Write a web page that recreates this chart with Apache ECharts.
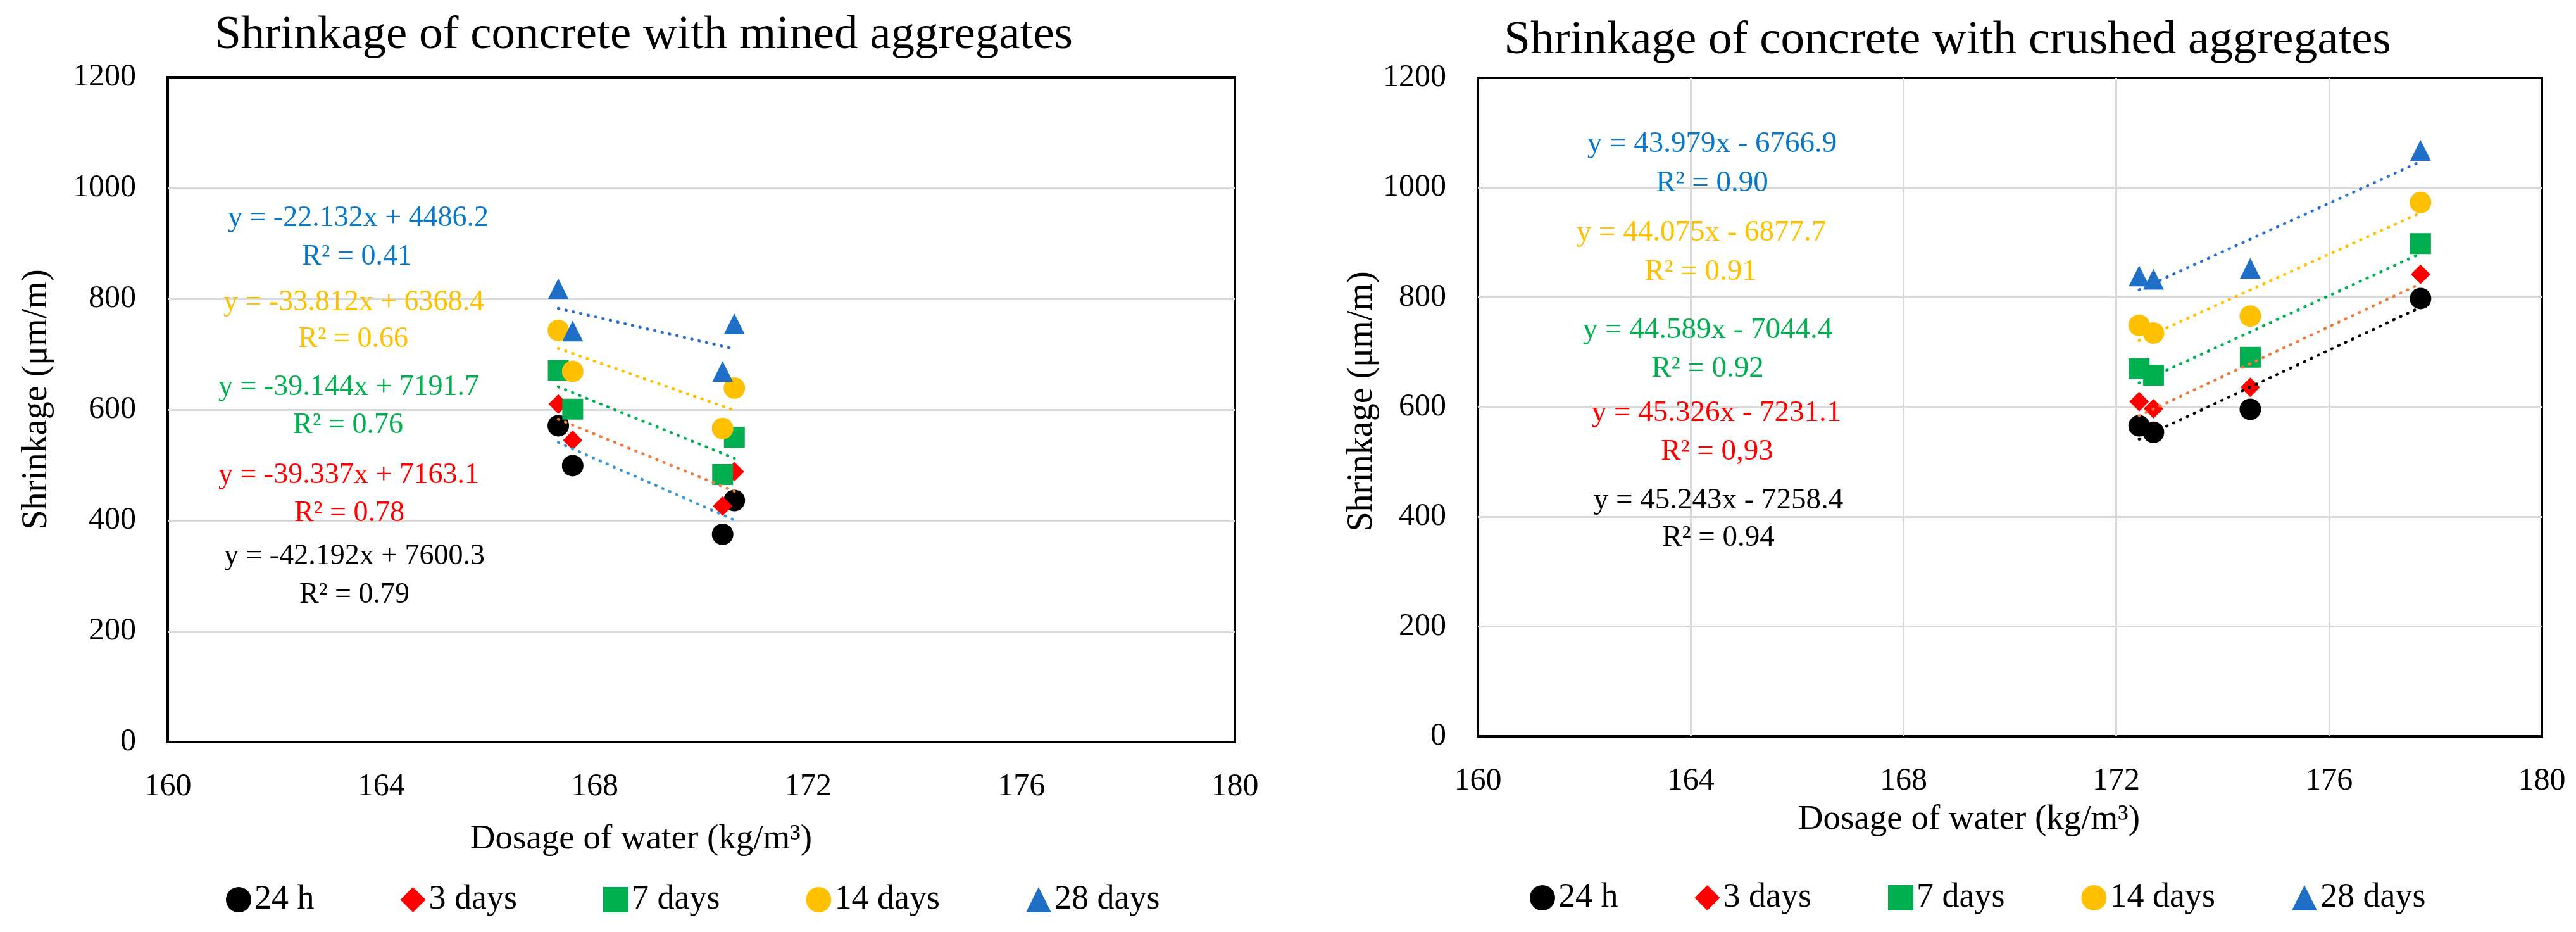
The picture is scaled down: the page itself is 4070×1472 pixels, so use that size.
<!DOCTYPE html>
<html><head><meta charset="utf-8">
<script src="https://cdn.jsdelivr.net/npm/echarts@6/dist/echarts.min.js"></script>
<style>html,body{margin:0;padding:0;background:#fff}#c{width:4070px;height:1472px}</style>
</head><body><div id="c"></div>
<script>
// ---------------- data ----------------
const seriesNames = ['24 h', '3 days', '7 days', '14 days', '28 days'];
const yTicks = [0, 200, 400, 600, 800, 1000, 1200];
const xTicks = [160, 164, 168, 172, 176, 180];

const minedWater = [167.32, 167.59, 170.40, 170.62];
const mined24h  = [571, 499, 375, 436];
const mined3d   = [610, 545, 426, 488];
const mined7d   = [671, 601, 483, 550];
const mined14d  = [743, 669, 566, 639];
const mined28d  = [818, 742, 669, 755];

const crushedWater = [172.43, 172.70, 174.52, 177.72];
const crushed24h = [566, 554, 596, 798];
const crushed3d  = [610, 597, 636, 842];
const crushed7d  = [670, 658, 691, 898];
const crushed14d = [749, 735, 766, 973];
const crushed28d = [839, 833, 853, 1068];

// trendline labels, in order 28 days, 14 days, 7 days, 3 days, 24 h
const minedEquations = ['y = -22.132x + 4486.2', 'y = -33.812x + 6368.4', 'y = -39.144x + 7191.7', 'y = -39.337x + 7163.1', 'y = -42.192x + 7600.3'];
const minedR2 = ['R² = 0.41', 'R² = 0.66', 'R² = 0.76', 'R² = 0.78', 'R² = 0.79'];
const crushedEquations = ['y = 43.979x - 6766.9', 'y = 44.075x - 6877.7', 'y = 44.589x - 7044.4', 'y = 45.326x - 7231.1', 'y = 45.243x - 7258.4'];
const crushedR2 = ['R² = 0.90', 'R² = 0.91', 'R² = 0.92', 'R² = 0,93', 'R² = 0.94'];

const titles = ['Shrinkage of concrete with mined aggregates', 'Shrinkage of concrete with crushed aggregates'];
const xTitle = 'Dosage of water (kg/m³)';
const yTitle = 'Shrinkage (μm/m)';

// ---------------- styles ----------------
const FONT = '"Liberation Serif", "Times New Roman", serif';
const markerColors = ['#000000', '#ff0000', '#00b050', '#ffc000', '#1f6fc6'];
const symbols = ['circle', 'diamond', 'rect', 'circle', 'triangle'];
const symbolSizes = [34, 31, 33, 34, 33];
const trendColorsMined = ['#3a9ad9', '#f47a3a', '#00b050', '#ffc000', '#2a6fcf'];
const trendColorsCrushed = ['#000000', '#f47a3a', '#00b050', '#ffc000', '#2a6fcf'];
const eqColors = ['#0a78c8', '#ffc000', '#00b050', '#ff0000', '#000000'];

function fit(xs, ys) {
  const n = xs.length;
  const mx = xs.reduce((a, b) => a + b, 0) / n;
  const my = ys.reduce((a, b) => a + b, 0) / n;
  let sxy = 0, sxx = 0;
  for (let i = 0; i < n; i++) { sxy += (xs[i] - mx) * (ys[i] - my); sxx += (xs[i] - mx) ** 2; }
  const b = sxy / sxx, a = my - b * mx;
  const x0 = Math.min(...xs), x1 = Math.max(...xs);
  return [[x0, a + b * x0], [x1, a + b * x1]];
}

const minedSets = [mined24h, mined3d, mined7d, mined14d, mined28d];
const crushedSets = [crushed24h, crushed3d, crushed7d, crushed14d, crushed28d];

const series = [];
function addGroup(xs, sets, gi, trendColors) {
  sets.forEach((ys, i) => {
    series.push({
      type: 'scatter', name: seriesNames[i], xAxisIndex: gi, yAxisIndex: gi,
      symbol: symbols[i], symbolSize: symbolSizes[i],
      itemStyle: { color: markerColors[i], opacity: 1 },
      data: xs.map((x, k) => [x, ys[k]]), z: 2
    });
  });
  sets.forEach((ys, i) => {
    series.push({
      type: 'line', name: 'trend' + gi + '_' + i, xAxisIndex: gi, yAxisIndex: gi,
      symbol: 'none', silent: true, z: 3,
      lineStyle: { color: trendColors[i], width: 4.5, type: [1, 11], cap: 'round' },
      data: fit(xs, ys)
    });
  });
}
addGroup(minedWater, minedSets, 0, trendColorsMined);
addGroup(crushedWater, crushedSets, 1, trendColorsCrushed);

const axisLabel = { color: '#000', fontFamily: FONT, fontSize: 50, formatter: (v) => String(v) };
const splitLine = (show) => ({ show, showMinLine: false, showMaxLine: false, lineStyle: { color: '#d9d9d9', width: 3 } });
function xAxis(gi, grid) {
  return { type: 'value', gridIndex: gi, min: xTicks[0], max: xTicks[xTicks.length - 1], interval: 4,
    axisLine: { show: false }, axisTick: { show: false },
    axisLabel: Object.assign({ margin: 46 }, axisLabel), splitLine: splitLine(grid) };
}
function yAxis(gi) {
  return { type: 'value', gridIndex: gi, min: yTicks[0], max: yTicks[yTicks.length - 1], interval: 200,
    axisLine: { show: false }, axisTick: { show: false },
    axisLabel: Object.assign({ margin: 50 }, axisLabel), splitLine: splitLine(true) };
}

const graphics = [];
function txt(text, x, y, size, color, rot) {
  graphics.push({ type: 'text', x: x, y: y, rotation: rot || 0, z: 10,
    style: { text: text, fill: color || '#000', font: size + 'px ' + FONT, textAlign: 'center', textVerticalAlign: 'middle' } });
}
txt(titles[0], 1017, 56, 75);
txt(titles[1], 3077, 64, 75);
txt(xTitle, 1013, 1326, 55);
txt(xTitle, 3111, 1295, 55);
txt(yTitle, 58, 631, 56, '#000', Math.PI / 2);
txt(yTitle, 2152, 634, 56, '#000', Math.PI / 2);

const minedEqPos = [[566, 345, 564, 406], [559, 478, 558, 536], [551, 612, 550, 672], [551, 751, 552, 811], [560, 879, 560, 940]];
const crushedEqPos = [[2705, 228, 2705, 290], [2688, 368, 2687, 430], [2698, 522, 2698, 583], [2712, 653, 2713, 714], [2715, 791, 2715, 850]];
minedEquations.forEach((t, i) => { const p = minedEqPos[i]; txt(t, p[0], p[1], 46, eqColors[i]); txt(minedR2[i], p[2], p[3], 46, eqColors[i]); });
crushedEquations.forEach((t, i) => { const p = crushedEqPos[i]; txt(t, p[0], p[1], 47, eqColors[i]); txt(crushedR2[i], p[2], p[3], 47, eqColors[i]); });

const legendData = seriesNames.map((n, i) => ({ name: n, icon: symbols[i] }));
function legend(left, top, gap) {
  return { data: legendData, left: left, top: top, orient: 'horizontal', itemGap: gap, itemWidth: 40, itemHeight: 40,
    selectedMode: false, textStyle: { color: '#000', fontFamily: FONT, fontSize: 54 } };
}

const chart = echarts.init(document.getElementById('c'), null, { renderer: 'canvas' });
chart.setOption({
  animation: false,
  backgroundColor: '#ffffff',
  grid: [
    { left: 265, top: 122, width: 1686, height: 1050, show: true, borderColor: '#000', borderWidth: 4, backgroundColor: 'transparent' },
    { left: 2335, top: 123, width: 1681, height: 1040, show: true, borderColor: '#000', borderWidth: 4, backgroundColor: 'transparent' }
  ],
  xAxis: [xAxis(0, false), xAxis(1, true)],
  yAxis: [yAxis(0), yAxis(1)],
  legend: [legend(352, 1389, 136), legend(2412, 1386, 121)],
  graphic: { elements: graphics },
  series: series
});
</script></body></html>
